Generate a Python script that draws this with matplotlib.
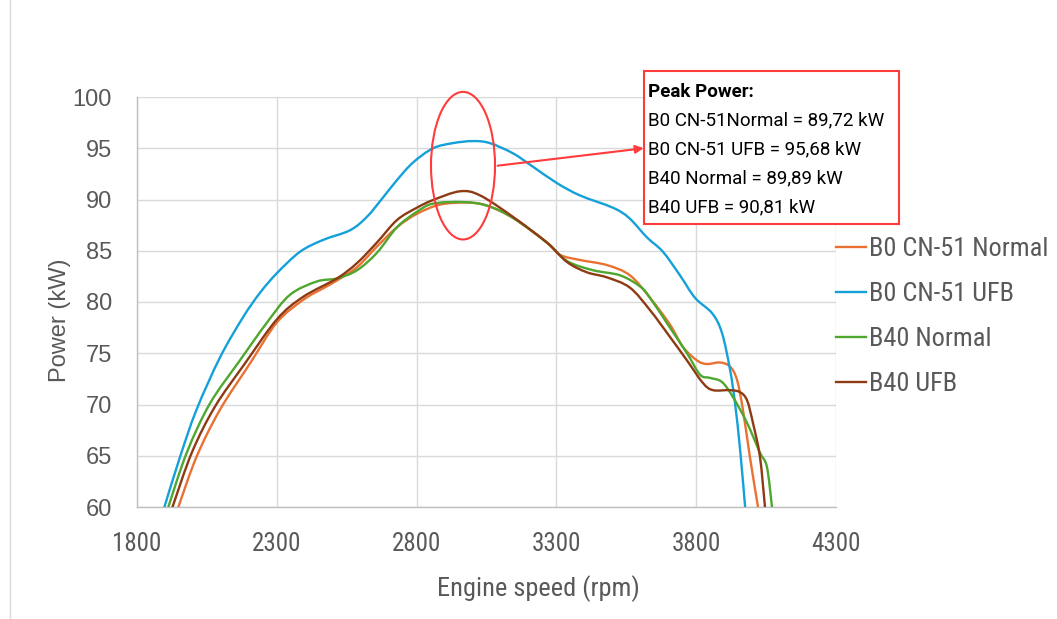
import matplotlib
matplotlib.use('Agg')
import matplotlib.pyplot as plt
from matplotlib.patches import Ellipse, Rectangle, PathPatch
from matplotlib.path import Path
from matplotlib.lines import Line2D

# - Power curves (rpm, kW)
rpm_b0_normal = [1948, 2013, 2097, 2204, 2300, 2394, 2470, 2515, 2587, 2658,
                 2730, 2801, 2884, 2980, 3052, 3145, 3266, 3313, 3384, 3481,
                 3563, 3635, 3706, 3753, 3803, 3838, 3885, 3921, 3946, 3967,
                 3992, 4021]
kw_b0_normal = [60.0, 64.9, 69.5, 74.0, 78.0, 80.2, 81.4, 82.1, 83.4, 85.4,
                87.3, 88.6, 89.5, 89.7, 89.4, 88.2, 85.8, 84.6, 84.1, 83.6,
                82.6, 80.4, 77.8, 75.6, 74.3, 73.95, 74.1, 73.7, 72.4, 69.5,
                64.9, 60.0]

rpm_b0_ufb = [1898, 1954, 2013, 2097, 2179, 2240, 2300, 2383, 2465, 2562,
              2622, 2680, 2730, 2787, 2859, 2930, 3002, 3062, 3145, 3216,
              3302, 3384, 3502, 3560, 3624, 3681, 3742, 3796, 3857, 3892,
              3921, 3939, 3957, 3975]
kw_b0_ufb = [60.0, 64.9, 69.5, 74.6, 78.5, 80.9, 82.8, 84.9, 86.05, 87.0,
             88.3, 90.2, 91.9, 93.6, 95.0, 95.5, 95.7, 95.5, 94.5, 93.2,
             91.6, 90.4, 89.2, 88.2, 86.3, 84.9, 82.6, 80.4, 78.9, 77.0,
             73.4, 70.1, 65.6, 60.0]

rpm_b40_normal = [1912, 1978, 2061, 2168, 2265, 2347, 2443, 2515,
                  2587, 2658, 2730, 2801, 2859, 2966, 3052, 3145, 3266, 3338,
                  3431, 3528, 3600, 3635, 3706, 3767, 3814, 3849, 3892, 3932,
                  3982, 4028, 4053, 4071]
kw_b40_normal = [60.0, 65.3, 70.1, 74.3, 78.0, 80.7, 82.0, 82.3,
                 83.1, 84.8, 87.3, 88.8, 89.6, 89.75, 89.4, 88.2, 85.8, 84.0,
                 83.1, 82.6, 81.5, 80.4, 77.5, 75.0, 72.9, 72.6, 72.2, 70.7,
                 68.2, 65.3, 63.9, 60.0]

rpm_b40_ufb = [1927, 1996, 2079, 2186, 2300, 2394, 2515, 2587, 2658, 2730,
               2801, 2859, 2955, 3027, 3145, 3266, 3338, 3409, 3481, 3563,
               3635, 3706, 3767, 3824, 3860, 3921, 3957, 3982, 4003, 4028,
               4046]
kw_b40_ufb = [60.0, 65.3, 69.8, 74.0, 78.3, 80.5, 82.3, 83.8, 85.8, 88.0,
              89.2, 89.95, 90.8, 90.4, 88.3, 85.8, 83.9, 82.9, 82.4, 81.4,
              79.2, 76.6, 74.3, 72.1, 71.4, 71.4, 71.2, 70.4, 68.2, 64.9,
              60.0]

series_names = ['B0 CN-51 Normal', 'B0 CN-51 UFB', 'B40 Normal', 'B40 UFB']
peak_title = 'Peak Power:'
peak_lines = ['B0 CN-51Normal = 89,72 kW', 'B0 CN-51 UFB = 95,68 kW',
              'B40 Normal = 89,89 kW', 'B40 UFB = 90,81 kW']
x_ticks = [1800, 2300, 2800, 3300, 3800, 4300]
y_ticks = [60, 65, 70, 75, 80, 85, 90, 95, 100]

colors = ['#E97132', '#14A0D8', '#4EA72E', '#8E3A12']
tick_col = '#595959'
grid_col = '#D9D9D9'
red = '#FF3B3B'
narrow = ['Roboto Condensed', 'Liberation Sans Narrow', 'Liberation Sans']


def smooth_path(xs, ys):
    """
    Smoothed line through the points (like a spreadsheet 'smoothed line')
    :param xs: x values
    :param ys: y values
    :return: matplotlib Path
    """
    pts = list(zip(xs, ys))
    verts = [pts[0]]
    codes = [Path.MOVETO]
    for i in range(len(pts) - 1):
        p0 = pts[i - 1] if i > 0 else pts[i]
        p1 = pts[i]
        p2 = pts[i + 1]
        p3 = pts[i + 2] if i + 2 < len(pts) else p2
        c1 = (p1[0] + (p2[0] - p0[0]) / 6., p1[1] + (p2[1] - p0[1]) / 6.)
        c2 = (p2[0] - (p3[0] - p1[0]) / 6., p2[1] - (p3[1] - p1[1]) / 6.)
        verts += [c1, c2, p2]
        codes += [Path.CURVE4] * 3
    return Path(verts, codes)


W, H = 1057, 619
fig = plt.figure(figsize=(W / 100, H / 100), dpi=100)
ax = fig.add_axes([137 / W, 1 - 507 / H, 699 / W, 410 / H])

curves = [(rpm_b0_normal, kw_b0_normal), (rpm_b0_ufb, kw_b0_ufb),
          (rpm_b40_normal, kw_b40_normal), (rpm_b40_ufb, kw_b40_ufb)]
handles = []
for (xs, ys), name, col in zip(curves, series_names, colors):
    ax.add_patch(PathPatch(smooth_path(xs, ys), fill=False, ec=col, lw=1.7,
                           joinstyle='round', capstyle='round', zorder=3))
    handles.append(Line2D([], [], color=col, lw=1.7))

ax.set_xlim(1800, 4300)
ax.set_ylim(60, 100)
ax.set_xticks(x_ticks)
ax.set_yticks(y_ticks)
ax.grid(True, color=grid_col, lw=1.0)
ax.set_axisbelow(True)
for side in ['top', 'right']:
    ax.spines[side].set_visible(False)
for side in ['left', 'bottom']:
    ax.spines[side].set_color('#BFBFBF')
    ax.spines[side].set_linewidth(1.0)
ax.tick_params(length=0, colors=tick_col)
ax.tick_params(axis='y', pad=18, labelsize=17)
ax.tick_params(axis='x', pad=18, labelsize=18)
for lab in ax.get_yticklabels():
    lab.set_family('Liberation Sans')
for lab in ax.get_xticklabels():
    lab.set_family(narrow)

# - axis titles
fig.text(538 / W, 1 - 589 / H, 'Engine speed (rpm)', fontsize=19,
         color=tick_col, family=narrow, ha='center', va='center')
fig.text(60 / W, 1 - 320 / H, 'Power (kW)', fontsize=17, color=tick_col,
         family='Liberation Sans', ha='center', va='center', rotation=90)

leg = fig.legend(handles, series_names, loc='upper left',
                 bbox_to_anchor=(836 / W, 1 - 237 / H), frameon=False,
                 handlelength=1.15, handletextpad=0.1, labelspacing=0.8,
                 borderpad=0.0, borderaxespad=0.0,
                 prop={'family': narrow, 'size': 19})
for txt in leg.get_texts():
    txt.set_color(tick_col)

# - Highlight ellipse around the peaks
ell = Ellipse((2966, 93.3), 229, 14.4, fill=False, ec=red, lw=1.5,
              clip_on=False, zorder=5)
ax.add_patch(ell)
ax.annotate('', xy=(3612, 95.0), xytext=(3090, 93.3),
            arrowprops=dict(arrowstyle='-|>', color=red, lw=1.5,
                            mutation_scale=12, shrinkA=0, shrinkB=0),
            annotation_clip=False)

# - Peak power box
fig.patches.append(Rectangle((644 / W, 1 - 224 / H), 255 / W, 153 / H,
                             transform=fig.transFigure, fill=True,
                             fc='white', ec=red, lw=1.5))
fig.text(648 / W, 1 - 92 / H, peak_title, fontsize=13.5, weight='bold',
         family='Roboto', va='center', color='black')
for i, line in enumerate(peak_lines):
    fig.text(648 / W, 1 - (120 + 29.2 * i) / H, line, fontsize=13.5,
             family='Roboto', va='center', color='black')

# - thin frame line at the left edge
fig.add_artist(Line2D([10 / W, 10 / W], [0, 1], color='#D9D9D9', lw=1.0,
                      transform=fig.transFigure))

fig.savefig('out.png', dpi=100)
plt.close(fig)
